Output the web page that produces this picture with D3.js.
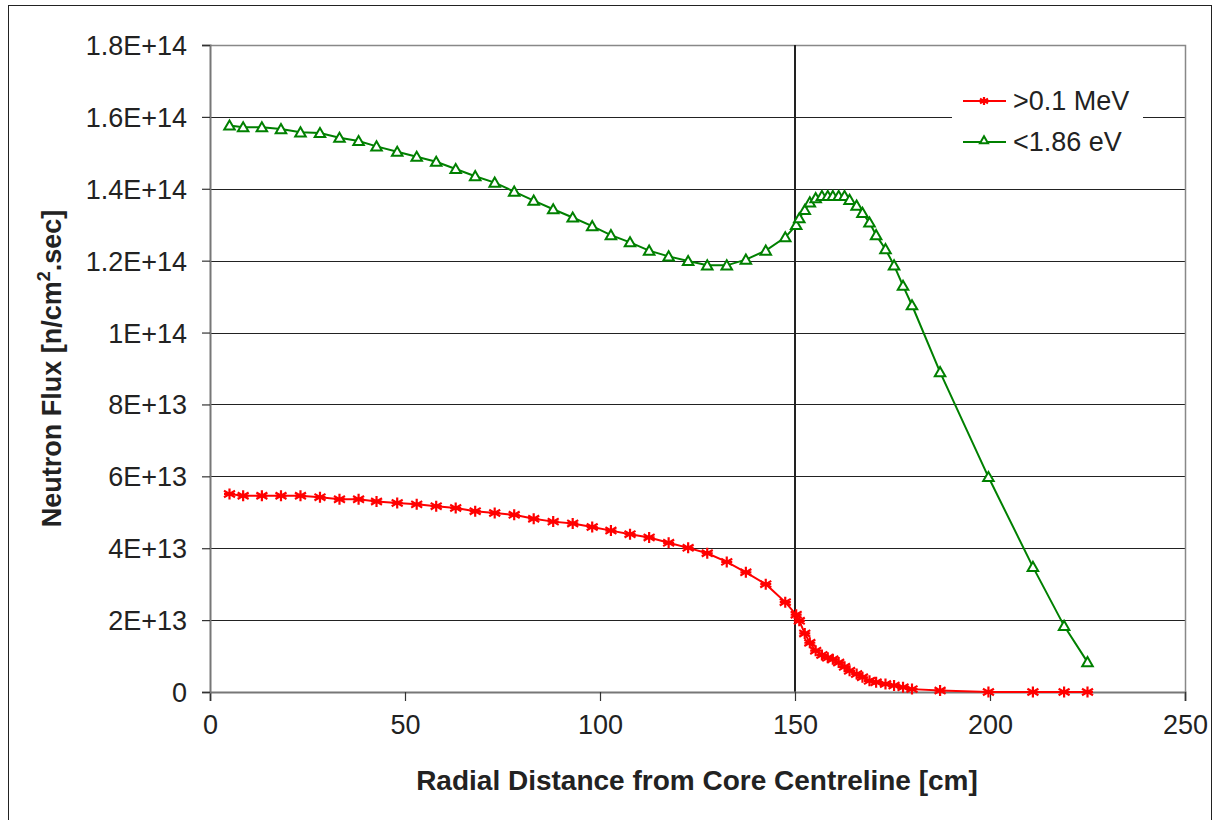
<!DOCTYPE html>
<html>
<head>
<meta charset="utf-8">
<script src="https://cdn.jsdelivr.net/npm/d3@7"></script>
<style>
  body { margin: 0; background: #fff; }
  svg { display: block; font-family: Arial, "Liberation Sans", sans-serif; }
</style>
</head>
<body>
<div id="chart"></div>
<script>
// Radial neutron flux profiles (values in units of 1E+13 n/cm2.sec)
const SCALE = 1e13;
const radius = [5, 8.5, 13.3, 18.2, 23.2, 28.2, 33.2, 38.1, 42.7, 48, 53, 58, 63, 68, 73, 78, 83, 88, 93, 98,
  102.8, 107.7, 112.6, 117.6, 122.6, 127.5, 132.5, 137.4, 142.5, 147.5, 150.3, 151.1, 152.5, 153.8, 155.3,
  156.9, 158.4, 159.7, 161.2, 162.7, 164.0, 165.8, 167.3, 169.1, 170.8, 173.2, 175.4, 177.7, 180.0,
  187.2, 199.6, 211, 219, 225];
const fastFlux = [5.51, 5.46, 5.46, 5.46, 5.46, 5.42, 5.36, 5.36, 5.30, 5.26, 5.22, 5.17, 5.12, 5.03, 4.98,
  4.93, 4.82, 4.74, 4.69, 4.59, 4.49, 4.39, 4.30, 4.15, 4.01, 3.86, 3.62, 3.33, 3.00, 2.50, 2.15, 1.98,
  1.63, 1.37, 1.15, 1.03, 0.95, 0.91, 0.82, 0.70, 0.59, 0.50, 0.41, 0.31, 0.27, 0.22, 0.18, 0.13, 0.08,
  0.04, 0, 0, 0, 0];
const thermalFlux = [15.76, 15.71, 15.71, 15.66, 15.57, 15.55, 15.42, 15.33, 15.18, 15.03, 14.89, 14.75,
  14.55, 14.35, 14.17, 13.92, 13.67, 13.43, 13.2, 12.96, 12.71, 12.51, 12.28, 12.12, 11.99, 11.87, 11.87,
  12.03, 12.28, 12.65, 12.99, 13.18, 13.41, 13.62, 13.74, 13.80, 13.80, 13.80, 13.80, 13.80, 13.69, 13.53,
  13.33, 13.06, 12.71, 12.32, 11.87, 11.30, 10.76, 8.9, 5.98, 3.48, 1.84, 0.83];
const seriesNames = ['>0.1 MeV', '<1.86 eV'];
const seriesColors = ['#ff0000', '#008000'];
const xTicks = [0, 50, 100, 150, 200, 250];
const yTicks = [0, 2e13, 4e13, 6e13, 8e13, 1e14, 1.2e14, 1.4e14, 1.6e14, 1.8e14];
const yTickLabels = ['0', '2E+13', '4E+13', '6E+13', '8E+13', '1E+14', '1.2E+14', '1.4E+14', '1.6E+14', '1.8E+14'];
const coreEdge = 150;

const W = 1214, H = 820;
const margin = { top: 45, right: 29, bottom: 128, left: 210 };

const svg = d3.select('#chart').append('svg')
  .attr('width', W).attr('height', H);

// outer frame
svg.append('rect')
  .attr('x', 8.5).attr('y', 5.5).attr('width', 1203).attr('height', 830)
  .attr('fill', 'none').attr('stroke', '#222').attr('stroke-width', 1);

const x = d3.scaleLinear().domain([0, 250]).range([margin.left, W - margin.right]);
const y = d3.scaleLinear().domain([0, 1.8e14]).range([H - margin.bottom, margin.top]);

// gridlines
svg.append('g')
  .selectAll('line')
  .data(yTicks.slice(1, -1))
  .join('line')
  .attr('x1', x(0)).attr('x2', x(250))
  .attr('y1', d => Math.round(y(d)) + 0.5).attr('y2', d => Math.round(y(d)) + 0.5)
  .attr('stroke', '#222').attr('stroke-width', 1.2);

// plot border (top and right)
svg.append('path')
  .attr('d', `M${x(0)},${y(1.8e14) + 0.5}H${x(250) + 0.5}V${y(0)}`)
  .attr('fill', 'none').attr('stroke', '#888').attr('stroke-width', 1.5);

// core edge marker
svg.append('line')
  .attr('x1', x(coreEdge)).attr('x2', x(coreEdge))
  .attr('y1', y(1.8e14)).attr('y2', y(0))
  .attr('stroke', '#222').attr('stroke-width', 2);

// axes
const xAxis = svg.append('g')
  .attr('transform', `translate(0,${y(0)})`)
  .call(d3.axisBottom(x).tickValues(xTicks).tickSize(9).tickPadding(14).tickFormat(d3.format('d')));
const yAxis = svg.append('g')
  .attr('transform', `translate(${x(0)},0)`)
  .call(d3.axisLeft(y).tickValues(yTicks).tickSize(8).tickPadding(15).tickFormat((d, i) => yTickLabels[i]));
[xAxis, yAxis].forEach(g => {
  g.select('.domain').attr('stroke', '#777').attr('stroke-width', 2);
  g.selectAll('.tick line').attr('stroke', '#333').attr('stroke-width', 1.2);
  g.selectAll('.tick text')
    .attr('fill', '#222')
    .style('font-size', '27px')
    .style('font-family', 'Arial, "Liberation Sans", sans-serif');
});
yAxis.selectAll('.tick text').attr('dy', '0.35em');

// axis titles
svg.append('text')
  .attr('x', 697).attr('y', 790)
  .attr('text-anchor', 'middle')
  .attr('font-size', 28).attr('font-weight', 'bold').attr('fill', '#222')
  .text('Radial Distance from Core Centreline [cm]');

const yTitle = svg.append('text')
  .attr('transform', `translate(61,${(y(0) + y(1.8e14)) / 2}) rotate(-90)`)
  .attr('text-anchor', 'middle')
  .attr('font-size', 27).attr('font-weight', 'bold').attr('fill', '#222');
yTitle.append('tspan').text('Neutron Flux [n/cm');
yTitle.append('tspan').attr('dy', -11).attr('font-size', 18).text('2');
yTitle.append('tspan').attr('dy', 11).text('.sec]');

// markers
function drawStar(g, cx, cy, r, color) {
  const p = d3.path();
  p.moveTo(cx, cy - r); p.lineTo(cx, cy + r);
  p.moveTo(cx - r, cy - r * 0.6); p.lineTo(cx + r, cy + r * 0.6);
  p.moveTo(cx - r, cy + r * 0.6); p.lineTo(cx + r, cy - r * 0.6);
  p.moveTo(cx - r, cy); p.lineTo(cx + r, cy);
  g.append('path').attr('d', p.toString())
    .attr('stroke', color).attr('stroke-width', 2.2).attr('fill', 'none');
}
const triangle = d3.symbol().type(d3.symbolTriangle).size(48);

const line = d3.line()
  .x(d => x(d[0]))
  .y(d => y(d[1] * SCALE));

const fastData = radius.map((r, i) => [r, fastFlux[i]]);
const thermalData = radius.map((r, i) => [r, thermalFlux[i]]);

svg.append('path').datum(thermalData)
  .attr('d', line).attr('fill', 'none')
  .attr('stroke', seriesColors[1]).attr('stroke-width', 2);
svg.append('path').datum(fastData)
  .attr('d', line).attr('fill', 'none')
  .attr('stroke', seriesColors[0]).attr('stroke-width', 2);

svg.append('g').selectAll('path')
  .data(thermalData)
  .join('path')
  .attr('d', triangle)
  .attr('transform', d => `translate(${x(d[0])},${y(d[1] * SCALE) + 1})`)
  .attr('fill', '#fff').attr('stroke', seriesColors[1]).attr('stroke-width', 2);

const starG = svg.append('g');
fastData.forEach(d => drawStar(starG, x(d[0]), y(d[1] * SCALE), 5.5, seriesColors[0]));

// legend
const legend = svg.append('g');
legend.append('rect')
  .attr('x', 952).attr('y', 80).attr('width', 191).attr('height', 82)
  .attr('fill', '#fff');
const legendY = [101, 142];
seriesNames.forEach((name, i) => {
  legend.append('line')
    .attr('x1', 963).attr('x2', 1006)
    .attr('y1', legendY[i]).attr('y2', legendY[i])
    .attr('stroke', seriesColors[i]).attr('stroke-width', 2);
  legend.append('text')
    .attr('x', 1013).attr('y', legendY[i]).attr('dy', '0.35em')
    .attr('font-size', 27).attr('fill', '#222')
    .text(name);
});
drawStar(legend, 984, legendY[0], 4, seriesColors[0]);
legend.append('path')
  .attr('d', d3.symbol().type(d3.symbolTriangle).size(28))
  .attr('transform', `translate(984,${legendY[1] - 1})`)
  .attr('fill', '#fff').attr('stroke', seriesColors[1]).attr('stroke-width', 2);
</script>
</body>
</html>
